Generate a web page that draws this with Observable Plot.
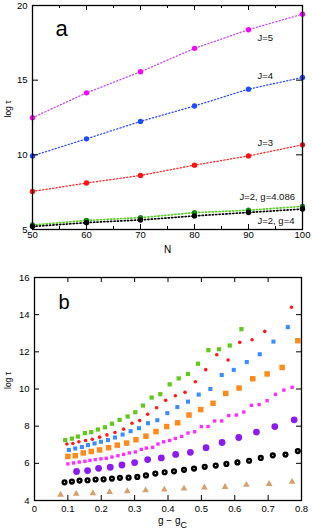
<!DOCTYPE html>
<html><head><meta charset="utf-8">
<script src="https://cdn.jsdelivr.net/npm/d3@7"></script>
<script src="https://cdn.jsdelivr.net/npm/@observablehq/plot@0.6"></script>
<style>
body{margin:0;background:#fff;}
#root{width:312px;}
svg{display:block;}
</style></head><body><div id="root"></div>
<script>
// ---------- Panel a data ----------
const N = [50, 60, 70, 80, 90, 100];
const J5 = [12.49, 14.15, 15.56, 17.13, 18.38, 19.42];
const J4 = [9.93, 11.07, 12.24, 13.27, 14.40, 15.18];
const J3 = [7.55, 8.11, 8.62, 9.31, 9.93, 10.67];
const J2g4086 = [5.30, 5.61, 5.79, 6.13, 6.29, 6.55];
const J2g4 = [5.20, 5.46, 5.64, 5.91, 6.14, 6.37];
const seriesNamesA = ["J=5", "J=4", "J=3", "J=2, g=4.086", "J=2, g=4"];
const xTicksA = [50, 60, 70, 80, 90, 100];
const xMinorA = [55, 65, 75, 85, 95];
const yTicksA = [5, 10, 15, 20];

// ---------- Panel b data ----------
const triX = [0.078, 0.125, 0.175, 0.225, 0.278, 0.333, 0.389, 0.448, 0.509, 0.571, 0.635, 0.703, 0.772];
const triY = [4.31, 4.36, 4.39, 4.45, 4.50, 4.55, 4.59, 4.64, 4.70, 4.73, 4.84, 4.89, 5.00];
const blackX = [0.090, 0.112, 0.135, 0.159, 0.183, 0.207, 0.232, 0.256, 0.282, 0.308, 0.334, 0.362, 0.390, 0.418, 0.448, 0.478, 0.510, 0.543, 0.575, 0.608, 0.643, 0.678, 0.714, 0.752, 0.789];
const blackY = [4.98, 5.02, 5.07, 5.09, 5.13, 5.14, 5.18, 5.22, 5.23, 5.27, 5.35, 5.45, 5.52, 5.57, 5.65, 5.72, 5.81, 5.88, 5.97, 6.05, 6.14, 6.29, 6.43, 6.47, 6.66];
const purpleX = [0.126, 0.159, 0.192, 0.227, 0.262, 0.300, 0.339, 0.380, 0.423, 0.467, 0.514, 0.562, 0.612, 0.665, 0.720, 0.778];
const purpleY = [5.56, 5.61, 5.73, 5.79, 5.91, 6.04, 6.20, 6.29, 6.48, 6.59, 6.84, 7.12, 7.39, 7.68, 7.98, 8.34];
const magentaX = [0.100, 0.117, 0.134, 0.151, 0.166, 0.182, 0.199, 0.215, 0.232, 0.250, 0.267, 0.284, 0.302, 0.320, 0.335, 0.354, 0.370, 0.387, 0.405, 0.422, 0.441, 0.460, 0.480, 0.500, 0.520, 0.540, 0.561, 0.582, 0.605, 0.627, 0.650, 0.673, 0.697, 0.722, 0.747, 0.772];
const magentaY = [5.97, 6.02, 6.07, 6.11, 6.16, 6.20, 6.24, 6.27, 6.34, 6.41, 6.48, 6.56, 6.61, 6.75, 6.82, 6.86, 7.04, 7.16, 7.23, 7.34, 7.45, 7.63, 7.70, 7.98, 7.98, 8.28, 8.28, 8.57, 8.60, 8.76, 9.12, 9.16, 9.37, 9.71, 9.94, 10.09];
const orangeX = [0.100, 0.122, 0.146, 0.170, 0.195, 0.222, 0.248, 0.276, 0.304, 0.334, 0.364, 0.396, 0.429, 0.463, 0.498, 0.535, 0.573, 0.613, 0.654, 0.697, 0.742, 0.789];
const orangeY = [6.37, 6.41, 6.56, 6.64, 6.72, 6.84, 6.98, 7.09, 7.27, 7.46, 7.71, 7.98, 8.18, 8.60, 8.89, 9.23, 9.76, 10.05, 10.55, 10.81, 11.16, 12.60];
const blueX = [0.103, 0.122, 0.142, 0.160, 0.180, 0.199, 0.220, 0.241, 0.264, 0.288, 0.313, 0.340, 0.368, 0.398, 0.428, 0.460, 0.492, 0.527, 0.561, 0.597, 0.636, 0.675, 0.716, 0.759];
const blueY = [6.72, 6.80, 6.88, 6.98, 7.07, 7.16, 7.25, 7.39, 7.55, 7.73, 7.89, 8.16, 8.32, 8.70, 9.03, 9.32, 9.70, 10.00, 10.75, 11.03, 11.45, 11.87, 12.55, 13.33];
const redX = [0.097, 0.115, 0.133, 0.153, 0.173, 0.195, 0.217, 0.241, 0.267, 0.292, 0.315, 0.339, 0.366, 0.393, 0.422, 0.451, 0.482, 0.513, 0.546, 0.580, 0.615, 0.652, 0.690, 0.770];
const redY = [7.04, 7.07, 7.16, 7.23, 7.30, 7.41, 7.53, 7.66, 7.84, 8.16, 8.30, 8.64, 8.99, 9.39, 9.64, 9.82, 10.39, 11.04, 11.84, 11.56, 12.51, 12.65, 13.10, 14.40];
const greenX = [0.092, 0.112, 0.130, 0.151, 0.170, 0.190, 0.211, 0.232, 0.255, 0.279, 0.302, 0.325, 0.351, 0.377, 0.405, 0.432, 0.460, 0.490, 0.521, 0.553, 0.585, 0.620];
const greenY = [7.25, 7.33, 7.44, 7.63, 7.68, 7.82, 7.94, 8.13, 8.34, 8.52, 8.75, 9.11, 9.54, 9.72, 10.25, 10.57, 10.81, 11.36, 12.09, 12.14, 12.34, 13.22];
const xTicksB = [0, 0.1, 0.2, 0.3, 0.4, 0.5, 0.6, 0.7, 0.8];
const yTicksB = [4, 6, 8, 10, 12, 14, 16];

const FONT = "'Liberation Sans', Arial, Helvetica, sans-serif";

// ---------- Panel a ----------
const valsA = [J5, J4, J3, J2g4086, J2g4];
const styleA = [
  {dot: "#ff00ff", line: "#c050f0", dx: 9, dy: 11, anchor: "start"},
  {dot: "#1d4cff", line: "#3050ff", dx: 9, dy: -10, anchor: "start"},
  {dot: "#ff1010", line: "#ff2a2a", dx: 9, dy: -9.5, anchor: "start"},
  {dot: "#138a13", line: "#5ccc2a", dx: -9, dy: -10.5, anchor: "start"},
  {dot: "#000000", line: "#000000", dx: 9, dy: 12, anchor: "start"}
];
const rowsA = seriesNamesA.map((name, k) => N.map((n, i) => ({series: name, N: n, v: valsA[k][i]})));

const WA = 312, HA = 260, mA = {t: 5, r: 10, b: 31, l: 32};
const innerWA = WA - mA.l - mA.r, innerHA = HA - mA.t - mA.b;

const marksA = [];
rowsA.forEach((rows, k) => {
  const s = styleA[k];
  marksA.push(Plot.line(rows, {x: "N", y: "v", stroke: s.line, strokeWidth: k >= 3 ? 1.7 : 1.3, strokeDasharray: "1.2,2.2"}));
});
rowsA.forEach((rows, k) => {
  const s = styleA[k];
  marksA.push(Plot.dot(rows, {x: "N", y: "v", r: 2.7, fill: s.dot}));
  marksA.push(Plot.text(rows.filter(d => d.N === 90), {x: "N", y: "v", text: d => d.series, dx: s.dx, dy: s.dy, textAnchor: s.anchor, lineAnchor: "bottom", fontSize: 9.5, fill: "#111"}));
});

const chartA = Plot.plot({
  width: WA, height: HA,
  marginTop: mA.t, marginRight: mA.r, marginBottom: mA.b, marginLeft: mA.l,
  style: {fontFamily: FONT, fontSize: "9.5px", background: "white", color: "black"},
  x: {domain: [50, 100]},
  y: {domain: [5, 20]},
  marks: [
    ...marksA,
    Plot.tickX(xTicksA, {x: d => d, insetTop: innerHA - 5, stroke: "black", strokeWidth: 1}),
    Plot.tickX(xTicksA, {x: d => d, insetBottom: innerHA - 5, stroke: "black", strokeWidth: 1}),
    Plot.tickX(xMinorA, {x: d => d, insetTop: innerHA - 3, stroke: "black", strokeWidth: 1}),
    Plot.tickX(xMinorA, {x: d => d, insetBottom: innerHA - 3, stroke: "black", strokeWidth: 1}),
    Plot.tickY(yTicksA, {y: d => d, insetRight: innerWA - 6, stroke: "black", strokeWidth: 1}),
    Plot.tickY(yTicksA, {y: d => d, insetLeft: innerWA - 6, stroke: "black", strokeWidth: 1}),
    Plot.axisX(xTicksA, {tickSize: 0, tickPadding: 2, label: null, fontSize: 9.5}),
    Plot.axisY(yTicksA, {tickSize: 0, tickPadding: 5, label: null, fontSize: 9.5}),
    Plot.frame({stroke: "black", strokeWidth: 1.3}),
    Plot.text(["a"], {frameAnchor: "top-left", dx: 23, dy: 30, text: d => d, textAnchor: "start", lineAnchor: "bottom", fontSize: 22}),
    Plot.text(["N"], {frameAnchor: "bottom", dy: 23, text: d => d, lineAnchor: "bottom", fontSize: 10}),
    Plot.text(["log τ"], {frameAnchor: "left", dx: -22, text: d => d, rotate: -90, lineAnchor: "bottom", fontSize: 8.5})
  ]
});

// ---------- Panel b ----------
const WB = 312, HB = 271, mB = {t: 17, r: 11, b: 31, l: 34};
const innerWB = WB - mB.l - mB.r, innerHB = HB - mB.t - mB.b;
const toRows = (xs, ys) => xs.map((x, i) => ({x, y: ys[i]}));

const chartB = Plot.plot({
  width: WB, height: HB,
  marginTop: mB.t, marginRight: mB.r, marginBottom: mB.b, marginLeft: mB.l,
  style: {fontFamily: FONT, fontSize: "9.5px", background: "white", color: "black"},
  x: {domain: [0, 0.8]},
  y: {domain: [4, 16]},
  marks: [
    Plot.dot(toRows(triX, triY), {x: "x", y: "y", symbol: "triangle", r: 2.5, fill: "#d4a06e"}),
    Plot.dot(toRows(blackX, blackY), {x: "x", y: "y", r: 1.9, fill: "#e8e8e8", stroke: "black", strokeWidth: 2.4}),
    Plot.dot(toRows(purpleX, purpleY), {x: "x", y: "y", r: 3.4, fill: "#8a1cf0"}),
    Plot.dot(toRows(magentaX, magentaY), {x: "x", y: "y", symbol: "square", r: 1.9, fill: "#ff2cff"}),
    Plot.dot(toRows(orangeX, orangeY), {x: "x", y: "y", symbol: "square", r: 3.1, fill: "#ff8a1c"}),
    Plot.dot(toRows(blueX, blueY), {x: "x", y: "y", symbol: "square", r: 2.3, fill: "#3b8cff"}),
    Plot.dot(toRows(redX, redY), {x: "x", y: "y", r: 1.8, fill: "#ff1a1a"}),
    Plot.dot(toRows(greenX, greenY), {x: "x", y: "y", symbol: "square", r: 2.4, fill: "#63c81e"}),
    Plot.tickX(xTicksB, {x: d => d, insetTop: innerHB - 5, stroke: "black", strokeWidth: 1}),
    Plot.tickX(xTicksB, {x: d => d, insetBottom: innerHB - 5, stroke: "black", strokeWidth: 1}),
    Plot.tickY(yTicksB, {y: d => d, insetRight: innerWB - 5, stroke: "black", strokeWidth: 1}),
    Plot.tickY(yTicksB, {y: d => d, insetLeft: innerWB - 5, stroke: "black", strokeWidth: 1}),
    Plot.axisX(xTicksB, {tickSize: 0, tickPadding: 5, label: null, fontSize: 9.5, tickFormat: d => String(d)}),
    Plot.axisY(yTicksB, {tickSize: 0, tickPadding: 5, label: null, fontSize: 9.5}),
    Plot.frame({stroke: "black", strokeWidth: 1.3}),
    Plot.text(["b"], {frameAnchor: "top-left", dx: 24, dy: 31, text: d => d, textAnchor: "start", lineAnchor: "bottom", fontSize: 20}),
    Plot.text(["log τ"], {frameAnchor: "left", dx: -24, text: d => d, rotate: -90, lineAnchor: "bottom", fontSize: 8.5})
  ]
});

// x label with subscript for panel b
const lab = d3.select(chartB).append("text")
  .attr("x", (mB.l + WB - mB.r) / 2 + 5)
  .attr("y", HB - 7)
  .attr("text-anchor", "middle")
  .attr("font-family", FONT)
  .attr("font-size", 10)
  .attr("fill", "black");
lab.append("tspan").text("g − g");
lab.append("tspan").attr("dy", 3.5).attr("font-size", 9).text("C");

document.getElementById("root").append(chartA, chartB);
</script>
</body></html>
